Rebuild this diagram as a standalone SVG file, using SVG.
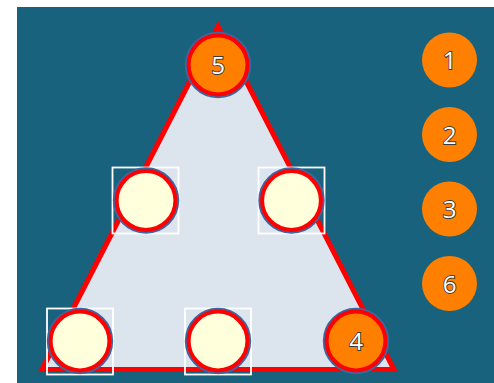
<svg xmlns="http://www.w3.org/2000/svg" width="494" height="383" viewBox="0 0 494 383">
<style>
.bg{fill:#19627d}
.tri{fill:#dce4ee;stroke:#ff0000;stroke-width:5;stroke-linejoin:miter}
.sq{fill:none;stroke:#ffffff;stroke-width:1.8}
.ring{fill:none;stroke:#3d66a3;stroke-width:3.2}
.slot{stroke:#ff0000;stroke-width:4}
.empty{fill:#ffffdc}
.or{fill:#ff8000}
.num{font-family:"Open Sans","Noto Sans",sans-serif;font-size:24px;fill:#ffffff;stroke:#3a3a3a;stroke-width:1.8;paint-order:stroke;text-anchor:middle}
</style>
<rect class="bg" x="17" y="7" width="477" height="376"/>
<g id="board">
<polygon class="tri" points="218,26.5 42,369.5 394,369.5"/>
</g>
<g id="connectors"></g>
<g id="slot-top">
<circle class="ring" cx="218" cy="65" r="31.6"/>
<circle class="slot or" cx="218" cy="65" r="29.4"/>
<text class="num" x="218" y="74">5</text>
</g>
<g id="slot-midleft">
<rect class="sq" x="112.5" y="167.5" width="66" height="66"/>
<circle class="ring" cx="146" cy="200.5" r="31.6"/>
<circle class="slot empty" cx="146" cy="200.5" r="29.4"/>
</g>
<g id="slot-midright">
<rect class="sq" x="258.5" y="167.5" width="66" height="66"/>
<circle class="ring" cx="291.5" cy="200.5" r="31.6"/>
<circle class="slot empty" cx="291.5" cy="200.5" r="29.4"/>
</g>
<g id="slot-botleft">
<rect class="sq" x="47" y="308.5" width="66" height="66"/>
<circle class="ring" cx="80" cy="341" r="31.6"/>
<circle class="slot empty" cx="80" cy="341" r="29.4"/>
</g>
<g id="slot-botmid">
<rect class="sq" x="185" y="308.5" width="66" height="66"/>
<circle class="ring" cx="218" cy="341" r="31.6"/>
<circle class="slot empty" cx="218" cy="341" r="29.4"/>
</g>
<g id="slot-botright">
<circle class="ring" cx="356" cy="341" r="31.6"/>
<circle class="slot or" cx="356" cy="341" r="29.4"/>
<text class="num" x="356" y="350">4</text>
</g>
<g id="piece-1">
<circle class="or" cx="449.5" cy="60" r="27.5"/>
<text class="num" x="449.5" y="69">1</text>
</g>
<g id="piece-2">
<circle class="or" cx="449.5" cy="134.5" r="27.5"/>
<text class="num" x="449.5" y="143.5">2</text>
</g>
<g id="piece-3">
<circle class="or" cx="449.5" cy="209" r="27.5"/>
<text class="num" x="449.5" y="218">3</text>
</g>
<g id="piece-6">
<circle class="or" cx="449.5" cy="283.5" r="27.5"/>
<text class="num" x="449.5" y="292.5">6</text>
</g>
</svg>
